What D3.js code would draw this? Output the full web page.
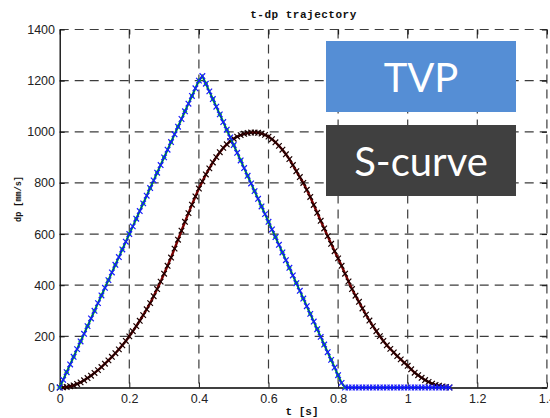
<!DOCTYPE html>
<html>
<head>
<meta charset="utf-8">
<script src="https://cdn.jsdelivr.net/npm/d3@7"></script>
<style>
  body { margin: 0; background: #fff; }
</style>
</head>
<body>
<div id="chart"></div>
<script>
// sample times [s]
const tTime = [
  0.00,0.01,0.02,0.03,0.04,0.05,0.06,0.07,0.08,0.09,
  0.10,0.11,0.12,0.13,0.14,0.15,0.16,0.17,0.18,0.19,
  0.20,0.21,0.22,0.23,0.24,0.25,0.26,0.27,0.28,0.29,
  0.30,0.31,0.32,0.33,0.34,0.35,0.36,0.37,0.38,0.39,
  0.40,0.41,0.42,0.43,0.44,0.45,0.46,0.47,0.48,0.49,
  0.50,0.51,0.52,0.53,0.54,0.55,0.56,0.57,0.58,0.59,
  0.60,0.61,0.62,0.63,0.64,0.65,0.66,0.67,0.68,0.69,
  0.70,0.71,0.72,0.73,0.74,0.75,0.76,0.77,0.78,0.79,
  0.80,0.81,0.82,0.83,0.84,0.85,0.86,0.87,0.88,0.89,
  0.90,0.91,0.92,0.93,0.94,0.95,0.96,0.97,0.98,0.99,
  1.00,1.01,1.02,1.03,1.04,1.05,1.06,1.07,1.08,1.09,
  1.10,1.11,1.12
]

// trapezoidal (here triangular) velocity profile, dp [mm/s]
const tvpValues = [
  0,30,60,90,120,150,180,210,240,270,
  300,330,360,390,420,450,480,510,540,570,
  600,630,660,690,720,750,780,810,840,870,
  900,930,960,990,1020,1050,1080,1110,1140,1170,
  1200,1218,1188,1158,1128,1098,1068,1038,1008,978,
  948,918,888,858,828,798,768,738,708,678,
  648,618,588,558,528,498,468,438,408,378,
  348,318,288,258,228,198,168,138,108,78,
  48,18,0,0,0,0,0,0,0,0,
  0,0,0,0,0,0,0,0,0,0,
  0,0,0,0,0,0,0,0,0,0,
  0,0,0
]

// s-curve velocity profile, dp [mm/s]
const sCurveValues = [
  0,0.5,2,5,8,14,20,28,37,46,
  57,68,80,93,106,120,134,149,165,182,
  200,220,240,261,283,306,330,357,385,414,
  445,476,508,543,578,613,648,682,715,747,
  778,806,833,857,880,901,920,937,951,963,
  973,981,987,992,995,997,997,996,993,988,
  981,971,959,945,930,912,893,870,846,823,
  800,773,745,714,683,652,622,592,562,533,
  505,476,445,415,385,359,335,309,285,262,
  240,220,201,182,165,151,137,123,110,97,
  85,71,58,48,38,29,22,15,10,7,
  4,2,0
]

const xTicks = [0, 0.2, 0.4, 0.6, 0.8, 1, 1.2, 1.4]
const yTicks = [0, 200, 400, 600, 800, 1000, 1200, 1400]
const titleText = "t-dp trajectory"
const xLabel = "t [s]"
const yLabel = "dp [mm/s]"
const legendNames = ["TVP", "S-curve"]

const width = 550,
      height = 418,
      margin = {top: 29.5, right: 3.1, bottom: 30.5, left: 59.7}

const tvp = tTime.map((t, i) => ({t: t, v: tvpValues[i]}))
const scurve = tTime.map((t, i) => ({t: t, v: sCurveValues[i]}))

let x = d3.scaleLinear()
    .domain([0, 1.4])
    .range([margin.left, width - margin.right])

let y = d3.scaleLinear()
    .domain([0, 1400])
    .range([height - margin.bottom, margin.top])

let line = d3.line()
    .x(d => x(d.t))
    .y(d => y(d.v))

const svg = d3.select("#chart")
  .append("svg")
  .attr("width", width)
  .attr("height", height)
  .attr("viewBox", [0, 0, width, height])

// dashed grid
const grid = svg.append("g")
  .attr("stroke", "#3c3c3c")
  .attr("stroke-width", 1.2)
  .attr("stroke-dasharray", "9,6")

grid.selectAll(".gx")
  .data(xTicks.filter(d => d > 0))
  .join("line")
    .attr("x1", d => x(d)).attr("x2", d => x(d))
    .attr("y1", y(1400)).attr("y2", y(0))

grid.selectAll(".gy")
  .data(yTicks.filter(d => d > 0))
  .join("line")
    .attr("y1", d => y(d)).attr("y2", d => y(d))
    .attr("x1", x(0)).attr("x2", x(1.4))

const tickFont = g => g
  .attr("font-family", "'Liberation Sans Narrow', 'Liberation Sans', Arial, sans-serif")
  .attr("font-size", 12.5)
  .call(g => g.selectAll("text").attr("fill", "#222"))
  .call(g => g.selectAll(".tick line").attr("stroke", "#111"))

// axes with inner ticks
svg.append("g")
  .attr("transform", `translate(0,${y(0)})`)
  .call(d3.axisBottom(x).tickValues(xTicks).tickFormat(d3.format("")).tickSizeInner(-5).tickSizeOuter(0).tickPadding(6.5))
  .call(tickFont)
  .call(g => g.select(".domain").attr("stroke", "#000").attr("stroke-width", 1.3))

svg.append("g")
  .attr("transform", `translate(${x(0)},0)`)
  .call(d3.axisLeft(y).tickValues(yTicks).tickFormat(d3.format("")).tickSizeInner(-5).tickSizeOuter(0).tickPadding(4.7))
  .call(tickFont)
  .call(g => g.select(".domain").attr("stroke", "#000").attr("stroke-width", 1.3))

svg.append("g")
  .attr("transform", `translate(0,${y(1400)})`)
  .call(d3.axisTop(x).tickValues(xTicks).tickFormat("").tickSizeInner(-5).tickSizeOuter(0))
  .call(g => g.select(".domain").remove())
  .call(g => g.selectAll(".tick line").attr("stroke", "#111"))

svg.append("g")
  .attr("transform", `translate(${x(1.4)},0)`)
  .call(d3.axisRight(y).tickValues(yTicks).tickFormat("").tickSizeInner(-5).tickSizeOuter(0))
  .call(g => g.select(".domain").remove())
  .call(g => g.selectAll(".tick line").attr("stroke", "#111"))

const xMark = "M-2.8,-2.8L2.8,2.8M-2.8,2.8L2.8,-2.8"

// S-curve: dark red line with black x markers
svg.append("path")
  .datum(scurve)
  .attr("fill", "none")
  .attr("stroke", "#7a0000")
  .attr("stroke-width", 2.4)
  .attr("stroke-linejoin", "round")
  .attr("d", line)

svg.append("g")
  .selectAll("path")
  .data(scurve)
  .join("path")
    .attr("transform", d => `translate(${x(d.t)},${y(d.v)})`)
    .attr("d", xMark)
    .attr("fill", "none")
    .attr("stroke", "#1a0000")
    .attr("stroke-width", 1.2)

// TVP: green line + dots, blue line + x markers
svg.append("path")
  .datum(tvp)
  .attr("fill", "none")
  .attr("stroke", "#00d000")
  .attr("stroke-width", 2.2)
  .attr("d", line)

svg.append("g")
  .selectAll("circle")
  .data(tvp.filter((d, i) => i % 2 === 0 && d.t <= 0.82))
  .join("circle")
    .attr("cx", d => x(d.t))
    .attr("cy", d => y(d.v))
    .attr("r", 2.1)
    .attr("fill", "#00dd00")

svg.append("path")
  .datum(tvp)
  .attr("fill", "none")
  .attr("stroke", "#0000ff")
  .attr("stroke-width", 1)
  .attr("d", line)

svg.append("g")
  .selectAll("path")
  .data(tvp)
  .join("path")
    .attr("transform", d => `translate(${x(d.t)},${y(d.v)})`)
    .attr("d", xMark)
    .attr("fill", "none")
    .attr("stroke", "#1a1aff")
    .attr("stroke-width", 1.2)

// labels
const monoFont = "'Liberation Mono', 'DejaVu Sans Mono', 'Courier New', monospace"

svg.append("text")
  .attr("x", 303.5)
  .attr("y", 18)
  .attr("text-anchor", "middle")
  .attr("font-family", monoFont)
  .attr("font-weight", "bold")
  .attr("font-size", 11)
  .attr("letter-spacing", 0.5)
  .attr("fill", "#111")
  .text(titleText)

svg.append("text")
  .attr("x", 302)
  .attr("y", 415)
  .attr("text-anchor", "middle")
  .attr("font-family", monoFont)
  .attr("font-weight", "bold")
  .attr("font-size", 11)
  .attr("fill", "#111")
  .text(xLabel)

svg.append("text")
  .attr("transform", "translate(21,199) rotate(-90)")
  .attr("text-anchor", "middle")
  .attr("font-family", monoFont)
  .attr("font-weight", "bold")
  .attr("font-size", 8.5)
  .attr("fill", "#111")
  .text(yLabel)

// the two name boxes
const boxes = [
  {name: legendNames[0], fill: "#558ed5", top: 41},
  {name: legendNames[1], fill: "#404040", top: 125}
]

const box = svg.append("g")
  .selectAll("g")
  .data(boxes)
  .join("g")
    .attr("transform", d => `translate(326,${d.top})`)

box.append("rect")
  .attr("width", 190)
  .attr("height", 71)
  .attr("fill", d => d.fill)

box.append("text")
  .attr("x", 95)
  .attr("y", 51)
  .attr("text-anchor", "middle")
  .attr("font-family", "Lato, 'Open Sans', sans-serif")
  .attr("font-size", 40)
  .attr("fill", "#fff")
  .text(d => d.name)
</script>
</body>
</html>
